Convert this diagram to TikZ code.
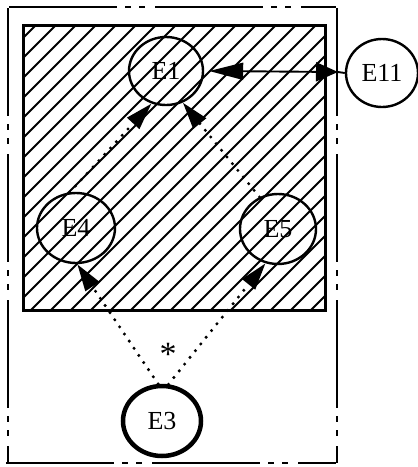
\documentclass[tikz,border=0pt]{standalone}
\usepackage{fontspec}
\setmainfont{Liberation Serif}
\usetikzlibrary{arrows.meta,shapes.geometric}
\begin{document}
\begin{tikzpicture}[x=1pt,y=1pt,
  ent/.style={draw, ellipse, line width=2.4pt, inner sep=0pt, font=\fontsize{26}{26}\selectfont, minimum width=74pt, minimum height=68pt},
  dotline/.style={line width=3.4pt, line cap=round, dash pattern=on 0pt off 8.6pt},
  headtip/.style={-{Triangle[length=27pt,width=16pt]}},
  border/.style={line width=2.6pt, dash pattern=on 108pt off 8pt on 6pt off 8pt on 6pt off 10pt},
  hatch/.style={line width=1.9pt},
  conn/.style={line width=1.9pt}]
\useasboundingbox (0,0) rectangle (418,-467);
% hatched region
\begin{scope}
\clip (23,-25) rectangle (325,-310);
\foreach \c in {41,61,...,661} \draw[hatch] (\c,0) -- ({\c-500},-500);
\end{scope}
\draw[line width=3pt] (23,-25) rectangle (325,-310);
% outer dash-dot border
\draw[border] (9,-7) -- (336,-7);
\draw[border] (8,-8) -- (8,-463);
\draw[border] (6,-463) -- (336,-463);
\draw[border] (337,-8) -- (337,-463);
% entities
\node[ent] (E1) at (166,-71) {E1};
\node[ent, minimum width=72pt] (E11) at (382,-73) {E11};
\node[ent, minimum width=78pt, minimum height=70pt] (E4) at (76,-228) {E4};
\node[ent, minimum width=76pt, minimum height=70pt] (E5) at (278,-229) {E5};
\node[ent, line width=4.5pt, minimum width=78pt, minimum height=70pt] (E3) at (162,-421) {E3};
% connectors
\coordinate (ob) at (338,-72);
\draw[conn, {Triangle[length=34pt,width=17pt]}-{Triangle[length=22pt,width=19pt]}] ([xshift=5pt]E1.east) -- (ob);
\draw[conn] (ob) -- (E11.west);
\draw[dotline, headtip] (E4.100) -- (E1.246);
\draw[dotline, headtip] (E5.120) -- (E1.298);
\draw[dotline, headtip] (E3.96) -- (E4.272);
\draw[dotline, headtip] (E3.80) -- (E5.250);
\node[font=\fontsize{34}{34}\selectfont, inner sep=0pt] (ast) at (168,-354) {*};
\end{tikzpicture}
\end{document}
